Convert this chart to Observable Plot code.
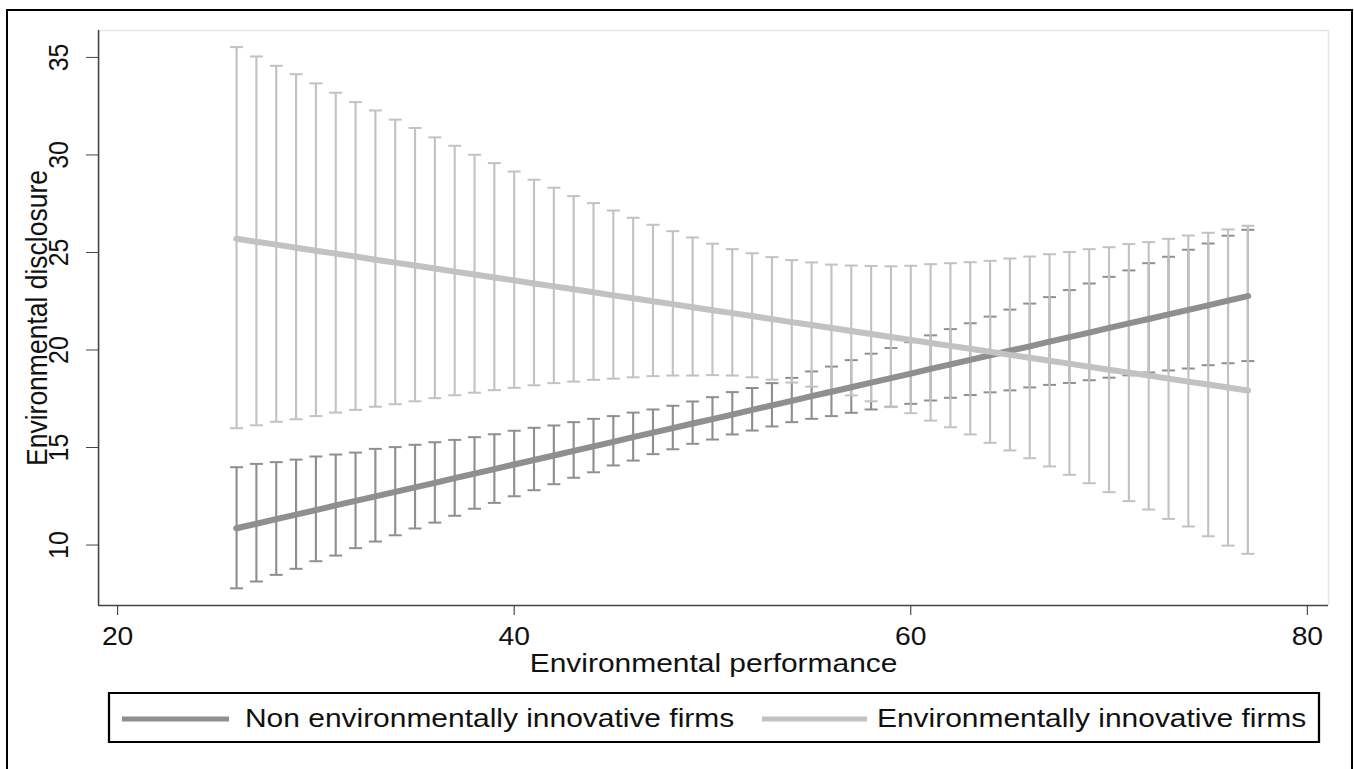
<!DOCTYPE html>
<html>
<head>
<meta charset="utf-8">
<script src="https://cdn.jsdelivr.net/npm/d3@7"></script>
<script src="https://cdn.jsdelivr.net/npm/@observablehq/plot@0.6"></script>
<style>
  html, body { margin: 0; padding: 0; background: #fff; overflow: hidden; }
  #page { position: relative; width: 1354px; height: 769px; }
  #figure { position: absolute; left: 0; top: 0; width: 1198px; height: 769px; transform-origin: 0 0; }
  #figure svg { position: absolute; left: 0; }
  #border { position: absolute; left: 6px; top: 9px; width: 1347px; height: 800px;
            border: 2px solid #000; box-sizing: border-box; pointer-events: none; }
</style>
</head>
<body>
<div id="page">
  <div id="figure"></div>
  <div id="border"></div>
</div>
<script>
// Environmental performance values at which the margins were evaluated
const perf = [26, 27, 28, 29, 30, 31, 32, 33, 34, 35, 36, 37, 38, 39, 40, 41, 42, 43, 44, 45, 46, 47, 48, 49, 50, 51,
              52, 53, 54, 55, 56, 57, 58, 59, 60, 61, 62, 63, 64, 65, 66, 67, 68, 69, 70, 71, 72, 73, 74, 75, 76, 77];

// Non environmentally innovative firms: predicted disclosure and 95% CI
const nonMean = [10.86, 11.09, 11.33, 11.56, 11.79, 12.03, 12.26, 12.49, 12.73, 12.96, 13.19, 13.43, 13.66, 13.89,
                 14.13, 14.36, 14.59, 14.83, 15.06, 15.29, 15.53, 15.76, 15.99, 16.23, 16.46, 16.69, 16.93, 17.16,
                 17.39, 17.63, 17.86, 18.09, 18.33, 18.56, 18.79, 19.03, 19.26, 19.49, 19.73, 19.96, 20.19, 20.43,
                 20.66, 20.89, 21.13, 21.36, 21.59, 21.83, 22.06, 22.29, 22.53, 22.76];
const nonLo = [7.78, 8.13, 8.47, 8.78, 9.17, 9.46, 9.84, 10.18, 10.50, 10.85, 11.15, 11.50, 11.86, 12.16, 12.50, 12.81,
               13.12, 13.45, 13.73, 14.08, 14.33, 14.66, 14.91, 15.19, 15.41, 15.67, 15.87, 16.08, 16.30, 16.47, 16.61,
               16.78, 16.95, 17.09, 17.24, 17.41, 17.55, 17.69, 17.83, 17.93, 18.08, 18.21, 18.31, 18.45, 18.58, 18.70,
               18.85, 18.95, 19.05, 19.22, 19.32, 19.43];
const nonHi = [13.99, 14.16, 14.25, 14.38, 14.54, 14.64, 14.74, 14.93, 15.02, 15.14, 15.27, 15.39, 15.53, 15.68, 15.86,
               16.01, 16.13, 16.30, 16.47, 16.61, 16.79, 16.95, 17.14, 17.36, 17.58, 17.84, 18.05, 18.30, 18.57, 18.90,
               19.15, 19.48, 19.81, 20.10, 20.40, 20.75, 21.07, 21.37, 21.71, 22.07, 22.38, 22.71, 23.07, 23.41, 23.75,
               24.08, 24.45, 24.78, 25.14, 25.46, 25.86, 26.16];

// Environmentally innovative firms: predicted disclosure and 95% CI
const innMean = [25.70, 25.55, 25.40, 25.24, 25.09, 24.94, 24.79, 24.63, 24.48, 24.33, 24.18, 24.02, 23.87, 23.72,
                 23.57, 23.41, 23.26, 23.11, 22.96, 22.80, 22.65, 22.50, 22.35, 22.19, 22.04, 21.89, 21.74, 21.58,
                 21.43, 21.28, 21.13, 20.97, 20.82, 20.67, 20.52, 20.36, 20.21, 20.06, 19.91, 19.75, 19.60, 19.45,
                 19.30, 19.14, 18.99, 18.84, 18.69, 18.53, 18.38, 18.23, 18.08, 17.92];
const innLo = [15.99, 16.14, 16.32, 16.45, 16.61, 16.79, 16.93, 17.09, 17.22, 17.37, 17.53, 17.68, 17.81, 17.94, 18.06,
               18.19, 18.30, 18.38, 18.47, 18.53, 18.60, 18.66, 18.69, 18.69, 18.71, 18.69, 18.60, 18.48, 18.33, 18.12,
               17.93, 17.67, 17.37, 17.07, 16.76, 16.38, 16.04, 15.67, 15.24, 14.85, 14.45, 14.03, 13.60, 13.17, 12.71,
               12.25, 11.82, 11.34, 10.95, 10.45, 9.97, 9.55];
const innHi = [35.53, 35.05, 34.57, 34.14, 33.67, 33.19, 32.71, 32.28, 31.81, 31.38, 30.90, 30.47, 30.01, 29.58, 29.15,
               28.73, 28.32, 27.89, 27.53, 27.15, 26.78, 26.42, 26.09, 25.77, 25.45, 25.17, 24.96, 24.76, 24.61, 24.49,
               24.38, 24.33, 24.31, 24.29, 24.32, 24.40, 24.45, 24.50, 24.57, 24.69, 24.79, 24.91, 25.02, 25.17, 25.27,
               25.43, 25.53, 25.70, 25.87, 26.01, 26.18, 26.37];

const xTicks = [20, 40, 60, 80];
const yTicks = [10, 15, 20, 25, 30, 35];
const xDomain = [19.04, 81.07];
const yDomain = [6.9, 36.38];
const seriesLabels = ["Non environmentally innovative firms", "Environmentally innovative firms"];
const xLabel = "Environmental performance";
const yLabel = "Environmental disclosure";

const DARK = "#8f8f8f";
const LIGHT = "#c2c2c2";
const AXIS = "#444";
const INK = "#111";
const FONT = "'Liberation Sans', Arial, Helvetica, sans-serif";

// The graph is drawn in a narrower coordinate space and widened horizontally
const W = 1198, H = 690;
const S = 1354 / W;
document.getElementById("figure").style.transform = `scaleX(${S})`;

const nonRows = perf.map((x, i) => ({x, m: nonMean[i], lo: nonLo[i], hi: nonHi[i]}));
const innRows = perf.map((x, i) => ({x, m: innMean[i], lo: innLo[i], hi: innHi[i]}));

// horizontal cap for the CI bars
const cap = {
  draw(context, size) {
    const r = Math.sqrt(size / Math.PI);
    context.moveTo(-r, 0);
    context.lineTo(r, 0);
  }
};

function ciMarks(rows, color) {
  return [
    Plot.ruleX(rows, {x: "x", y1: "lo", y2: "hi", stroke: color, strokeWidth: 1.9}),
    Plot.dot(rows, {x: "x", y: "lo", symbol: cap, r: 5.75, stroke: color, fill: "none", strokeWidth: 2}),
    Plot.dot(rows, {x: "x", y: "hi", symbol: cap, r: 5.75, stroke: color, fill: "none", strokeWidth: 2})
  ];
}

const chart = Plot.plot({
  width: W,
  height: H,
  marginLeft: 98 / S,
  marginRight: W - 1328 / S,
  marginTop: 30,
  marginBottom: H - 605,
  x: {domain: xDomain, axis: null},
  y: {domain: yDomain, axis: null},
  style: {fontFamily: FONT, fontSize: "25px", color: INK, background: "transparent", overflow: "visible"},
  marks: [
    // plot region outline (top and right)
    Plot.ruleY([yDomain[1]], {stroke: "#e6e6e6", strokeWidth: 1.5}),
    Plot.ruleX([xDomain[1]], {stroke: "#e6e6e6", strokeWidth: 1.5}),
    ...ciMarks(nonRows, DARK),
    ...ciMarks(innRows, LIGHT),
    Plot.line(nonRows, {x: "x", y: "m", stroke: DARK, strokeWidth: 6, strokeLinecap: "round"}),
    Plot.line(innRows, {x: "x", y: "m", stroke: LIGHT, strokeWidth: 6, strokeLinecap: "round"}),
    // axis lines
    Plot.ruleX([xDomain[0]], {stroke: AXIS, strokeWidth: 1.4}),
    Plot.ruleY([yDomain[0]], {stroke: AXIS, strokeWidth: 1.4}),
    Plot.axisX({ticks: xTicks, tickSize: 10, tickPadding: 12, tickFormat: d => String(d),
                fontSize: 25, stroke: AXIS, label: null}),
    Plot.axisY({ticks: yTicks, tickSize: 10.6, tickFormat: () => "", stroke: AXIS, label: null}),
    Plot.text(yTicks, {y: d => d, text: d => String(d), frameAnchor: "left", dx: -35,
                       rotate: -90, textAnchor: "middle", lineAnchor: "middle", fontSize: 25, fill: INK}),
    Plot.text([xLabel], {text: d => d, frameAnchor: "bottom", dy: 58,
                         textAnchor: "middle", lineAnchor: "middle", fontSize: 26.5, fill: INK}),
    Plot.text([yLabel], {text: d => d, frameAnchor: "left", dx: -54.2, rotate: -90,
                         textAnchor: "middle", lineAnchor: "middle", fontSize: 26.5, fill: INK})
  ]
});
chart.style.top = "0px";
document.getElementById("figure").append(chart);

// Legend box below the graph
const LEG_TOP = 690;
const legend = d3.create("svg")
  .attr("width", W)
  .attr("height", 79)
  .style("position", "absolute")
  .style("top", LEG_TOP + "px")
  .style("font-family", FONT);
legend.append("rect")
  .attr("x", 109 / S).attr("y", 3)
  .attr("width", (1319 - 109) / S).attr("height", 49)
  .attr("fill", "none").attr("stroke", "#000").attr("stroke-width", 2);
const legendItems = [
  {label: seriesLabels[0], color: DARK, x1: 122, x2: 229, tx: 245},
  {label: seriesLabels[1], color: LIGHT, x1: 762, x2: 867, tx: 877}
];
for (const item of legendItems) {
  legend.append("line")
    .attr("x1", item.x1 / S).attr("x2", item.x2 / S)
    .attr("y1", 29).attr("y2", 29)
    .attr("stroke", item.color).attr("stroke-width", 5);
  legend.append("text")
    .attr("x", item.tx / S).attr("y", 37)
    .attr("font-size", 26.5).attr("fill", INK)
    .text(item.label);
}
document.getElementById("figure").append(legend.node());
</script>
</body>
</html>
